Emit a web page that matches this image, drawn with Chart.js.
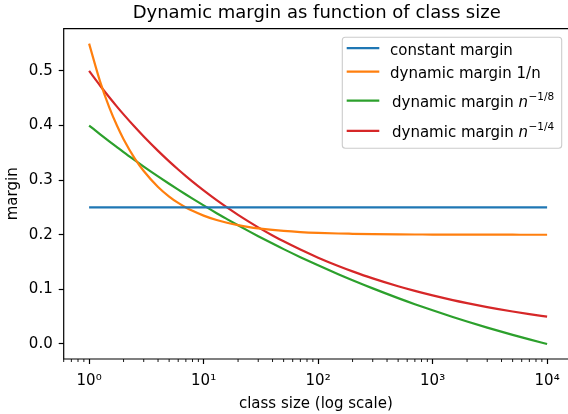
<!DOCTYPE html>
<html>
<head>
<meta charset="utf-8">
<script src="https://cdn.jsdelivr.net/npm/chart.js@4"></script>
<style>
  html, body { margin: 0; padding: 0; background: #fff; overflow: hidden; }
  canvas { display: block; }
</style>
</head>
<body>
<canvas id="myChart" width="568" height="414"></canvas>
<script>
// values
const classSizes = [1, 1.25, 1.5, 1.75, 2, 2.5, 3, 4, 5, 6, 7, 8, 10, 13, 16, 20, 25, 30, 40, 50, 70,
	100, 150, 200, 300, 500, 700, 1000, 1500, 2000, 3000, 5000, 7000, 10000];
const constantMargin = [0.25, 0.25, 0.25, 0.25, 0.25, 0.25, 0.25, 0.25, 0.25, 0.25, 0.25, 0.25, 0.25,
	0.25, 0.25, 0.25, 0.25, 0.25, 0.25, 0.25, 0.25, 0.25, 0.25, 0.25, 0.25, 0.25, 0.25, 0.25, 0.25,
	0.25, 0.25, 0.25, 0.25, 0.25];
const inverseMargin = [0.55, 0.48, 0.4333, 0.4, 0.375, 0.34, 0.3167, 0.2875, 0.27, 0.2583, 0.25,
	0.2438, 0.235, 0.2269, 0.2219, 0.2175, 0.214, 0.2117, 0.2088, 0.207, 0.205, 0.2035, 0.2023,
	0.2018, 0.2012, 0.2007, 0.2005, 0.2004, 0.2002, 0.2002, 0.2001, 0.2001, 0.2, 0.2];
const eighthRootMargin = [0.4, 0.3839, 0.3711, 0.3605, 0.3514, 0.3367, 0.3249, 0.3069, 0.2934,
	0.2826, 0.2737, 0.2661, 0.2537, 0.2395, 0.2287, 0.2173, 0.2062, 0.1974, 0.1839, 0.1737, 0.159,
	0.144, 0.1277, 0.1167, 0.1018, 0.084, 0.0729, 0.0617, 0.0495, 0.0412, 0.03, 0.0167, 0.0084, 0.0];
const quarterRootMargin = [0.5, 0.4729, 0.4518, 0.4347, 0.4204, 0.3976, 0.3799, 0.3536, 0.3344,
	0.3195, 0.3074, 0.2973, 0.2812, 0.2633, 0.25, 0.2364, 0.2236, 0.2136, 0.1988, 0.188, 0.1729,
	0.1581, 0.1429, 0.133, 0.1201, 0.1057, 0.0972, 0.0889, 0.0803, 0.0748, 0.0676, 0.0595, 0.0547, 0.05];

const seriesLabels = ["constant margin", "dynamic margin 1/n", "dynamic margin n\u22121/8", "dynamic margin n\u22121/4"];
const seriesColors = ["#1f77b4", "#ff7f0e", "#2ca02c", "#d62728"];

// legend text split for the math part
const legendText = ["constant margin", "dynamic margin 1/n", "dynamic margin ", "dynamic margin "];
const legendVar = ["", "", "n", "n"];
const legendExp = ["", "", "\u22121/8", "\u22121/4"];

const xTickValues = [1, 10, 100, 1000, 10000];
const xTickLabels = ["10\u2070", "10\u00b9", "10\u00b2", "10\u00b3", "10\u2074"];
const yTickValues = [0, 0.1, 0.2, 0.3, 0.4, 0.5];

const FONT = "'DejaVu Sans', sans-serif";

function toPoints(values) {
	return classSizes.map((n, i) => ({ x: n, y: values[i] }));
}

// spines, minor ticks and the legend box
const frameAndLegend = {
	id: "frameAndLegend",
	afterLayout(chart) {
		// centre the title over the plot, like matplotlib
		const area = chart.chartArea;
		chart.titleBlock.left = area.left;
		chart.titleBlock.right = area.left + 2 * (316.7 - area.left);
	},
	afterDraw(chart) {
		const c = chart.ctx;
		const area = chart.chartArea;
		const xs = chart.scales.x;
		c.save();

		// minor ticks
		c.strokeStyle = "#000";
		c.lineWidth = 0.9;
		c.beginPath();
		for (let k = -1; k <= 4; k++) {
			for (let m = 2; m <= 9; m++) {
				const v = m * Math.pow(10, k);
				if (v < xs.min || v > xs.max) continue;
				const px = xs.getPixelForValue(v);
				c.moveTo(px, area.bottom);
				c.lineTo(px, area.bottom + 3);
			}
		}
		c.stroke();

		// frame (right spine falls outside the picture)
		c.lineWidth = 1.2;
		c.beginPath();
		c.moveTo(area.right + 2, area.top);
		c.lineTo(area.left, area.top);
		c.lineTo(area.left, area.bottom);
		c.lineTo(area.right + 2, area.bottom);
		c.stroke();

		// legend
		const boxW = 219.4;
		const boxH = 111;
		const boxLeft = 342.3;
		const boxTop = area.top + 8.6;
		c.fillStyle = "rgba(255,255,255,0.8)";
		c.strokeStyle = "#cccccc";
		c.lineWidth = 1.1;
		c.beginPath();
		c.roundRect(boxLeft, boxTop, boxW, boxH, 3);
		c.fill();
		c.stroke();

		const rowY = [11, 34.4, 63.4, 93.7];
		chart.data.datasets.forEach((ds, i) => {
			const y = boxTop + rowY[i];
			c.strokeStyle = ds.borderColor;
			c.lineWidth = 2.2;
			c.beginPath();
			c.moveTo(boxLeft + 4.4, y);
			c.lineTo(boxLeft + 37, y);
			c.stroke();

			c.fillStyle = "#000";
			c.textBaseline = "alphabetic";
			c.textAlign = "left";
			c.font = "15px " + FONT;
			let tx = boxLeft + 47.7 + (legendVar[i] ? 2 : 0);
			const base = y + 6.5;
			c.fillText(legendText[i], tx, base);
			if (legendVar[i]) {
				tx += c.measureText(legendText[i]).width;
				c.font = "italic 15px " + FONT;
				c.fillText(legendVar[i], tx, base);
				tx += c.measureText(legendVar[i]).width + 0.5;
				c.font = "10.5px " + FONT;
				c.fillText(legendExp[i], tx, base - 7);
			}
		});

		c.restore();
	},
};

const ctx = document.getElementById("myChart");
const myChart = new Chart(ctx, {
	type: "line",
	data: {
		datasets: [
			{ label: seriesLabels[0], data: toPoints(constantMargin), borderColor: seriesColors[0] },
			{ label: seriesLabels[1], data: toPoints(inverseMargin), borderColor: seriesColors[1] },
			{ label: seriesLabels[2], data: toPoints(eighthRootMargin), borderColor: seriesColors[2] },
			{ label: seriesLabels[3], data: toPoints(quarterRootMargin), borderColor: seriesColors[3] },
		],
	},
	options: {
		responsive: false,
		animation: false,
		devicePixelRatio: 1,
		layout: { padding: { left: 0, right: 0, top: 0, bottom: 0 } },
		elements: {
			line: { borderWidth: 2.2, fill: false, cubicInterpolationMode: "monotone" },
			point: { radius: 0 },
		},
		plugins: {
			legend: { display: false },
			tooltip: { enabled: false },
			title: {
				display: true,
				text: "Dynamic margin as function of class size",
				color: "#000",
				font: { family: FONT, size: 18, weight: "normal", lineHeight: 1.2 },
				padding: { top: 2.9, bottom: 4.1 },
			},
		},
		scales: {
			x: {
				type: "logarithmic",
				min: 0.631,
				max: 15226,
				afterBuildTicks: (scale) => {
					scale.ticks = xTickValues.map((v) => ({ value: v, major: true }));
				},
				afterFit: (scale) => {
					scale.height = 55;
				},
				border: { display: false },
				grid: { drawOnChartArea: false, drawTicks: true, tickLength: 5, tickWidth: 1.2, tickColor: "#000" },
				ticks: {
					autoSkip: false,
					maxRotation: 0,
					padding: 8,
					color: "#000",
					font: { family: FONT, size: 15 },
					callback: (value) => {
						const i = xTickValues.indexOf(value);
						return i >= 0 ? xTickLabels[i] : "";
					},
				},
				title: {
					display: true,
					text: "class size (log scale)",
					color: "#000",
					font: { family: FONT, size: 15, lineHeight: 1.2 },
					padding: { top: 0, bottom: 0.5 },
				},
			},
			y: {
				type: "linear",
				min: -0.0275,
				max: 0.5775,
				afterBuildTicks: (scale) => {
					scale.ticks = yTickValues.map((v) => ({ value: v }));
				},
				afterFit: (scale) => {
					scale.width = 63.7;
				},
				border: { display: false },
				grid: { drawOnChartArea: false, drawTicks: true, tickLength: 5, tickWidth: 1.2, tickColor: "#000" },
				ticks: {
					padding: 6,
					color: "#000",
					font: { family: FONT, size: 15 },
					callback: (value) => value.toFixed(1),
				},
				title: {
					display: true,
					text: "margin",
					color: "#000",
					font: { family: FONT, size: 15, lineHeight: 1.2 },
					padding: { top: 4, bottom: 0 },
				},
			},
		},
	},
	plugins: [frameAndLegend],
});
</script>
</body>
</html>
